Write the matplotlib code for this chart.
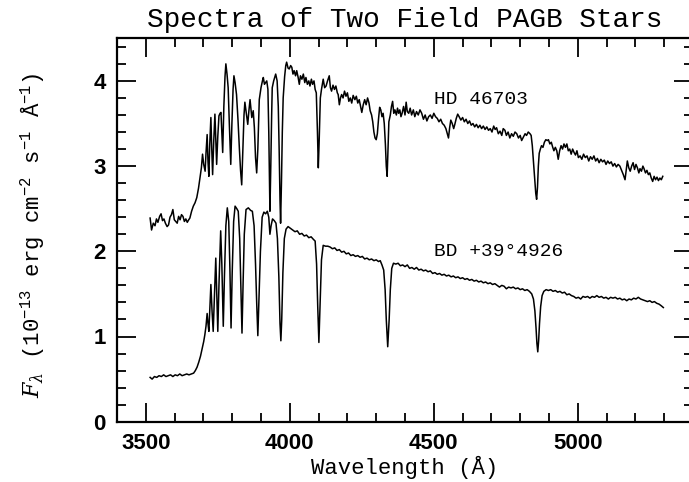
import matplotlib
matplotlib.use("Agg")
import matplotlib.pyplot as plt
from matplotlib.ticker import MultipleLocator

# ---------------- data ----------------
hd_wave = [3515, 3520, 3526, 3532, 3537, 3542, 3548, 3553, 3558, 3563, 3568, 3574, 3579, 3584, 3589,
           3594, 3599, 3604, 3609, 3614, 3619, 3624, 3629, 3634, 3639, 3644, 3649, 3653, 3659, 3665,
           3671, 3677, 3683, 3688, 3693, 3697, 3701, 3706, 3709, 3713, 3716, 3719, 3722, 3726, 3729,
           3732, 3736, 3740, 3743, 3746, 3750, 3754, 3758, 3761, 3764, 3767, 3771, 3775, 3778, 3782,
           3786, 3790, 3795, 3799, 3803, 3806, 3810, 3815, 3820, 3825, 3829, 3833, 3837, 3841, 3844,
           3849, 3854, 3858, 3862, 3868, 3873, 3877, 3881, 3885, 3889, 3894, 3900, 3905, 3908, 3912,
           3916, 3920, 3924, 3927, 3929, 3931, 3934, 3937, 3939, 3944, 3951, 3956, 3960, 3963, 3966,
           3968, 3971, 3974, 3977, 3982, 3986, 3989, 3994, 3998, 4003, 4007, 4011, 4015, 4020, 4024,
           4029, 4033, 4037, 4042, 4047, 4052, 4056, 4061, 4066, 4070, 4075, 4079, 4084, 4088, 4092,
           4096, 4099, 4102, 4106, 4110, 4116, 4121, 4126, 4131, 4137, 4141, 4145, 4150, 4155, 4160,
           4165, 4168, 4172, 4176, 4180, 4185, 4190, 4195, 4200, 4205, 4210, 4215, 4220, 4226, 4231,
           4236, 4241, 4246, 4250, 4255, 4260, 4265, 4270, 4275, 4279, 4284, 4288, 4292, 4296, 4300,
           4304, 4308, 4312, 4316, 4320, 4324, 4328, 4332, 4335, 4338, 4341, 4344, 4349, 4353, 4357,
           4361, 4365, 4370, 4374, 4378, 4382, 4386, 4390, 4395, 4400, 4404, 4408, 4413, 4418, 4423,
           4429, 4434, 4440, 4446, 4452, 4458, 4464, 4470, 4476, 4482, 4488, 4494, 4500, 4506, 4512,
           4518, 4524, 4530, 4536, 4542, 4547, 4551, 4555, 4559, 4564, 4569, 4573, 4578, 4583, 4588,
           4594, 4600, 4606, 4612, 4618, 4624, 4630, 4636, 4642, 4648, 4654, 4660, 4666, 4672, 4678,
           4684, 4690, 4696, 4702, 4708, 4713, 4718, 4724, 4730, 4736, 4741, 4747, 4752, 4758, 4764,
           4770, 4776, 4782, 4788, 4794, 4800, 4805, 4811, 4817, 4822, 4828, 4834, 4838, 4842, 4846,
           4850, 4854, 4857, 4860, 4863, 4866, 4870, 4874, 4879, 4884, 4889, 4894, 4898, 4903, 4908,
           4913, 4917, 4922, 4927, 4932, 4937, 4942, 4947, 4952, 4957, 4962, 4967, 4972, 4977, 4982,
           4987, 4992, 4997, 5002, 5008, 5014, 5020, 5026, 5032, 5038, 5044, 5050, 5056, 5062, 5068,
           5074, 5080, 5086, 5092, 5098, 5104, 5110, 5116, 5122, 5128, 5134, 5140, 5146, 5152, 5158,
           5164, 5168, 5172, 5177, 5182, 5187, 5192, 5197, 5202, 5207, 5212, 5216, 5221, 5226, 5230,
           5235, 5240, 5245, 5250, 5255, 5260, 5265, 5270, 5275, 5280, 5285, 5290, 5295]
hd_flux = [2.39, 2.25, 2.33, 2.30, 2.38, 2.34, 2.41, 2.44, 2.36, 2.38, 2.33, 2.29, 2.31, 2.40, 2.43,
           2.49, 2.37, 2.35, 2.33, 2.41, 2.37, 2.43, 2.41, 2.35, 2.38, 2.34, 2.37, 2.39, 2.47, 2.53,
           2.57, 2.63, 2.74, 2.86, 2.98, 3.14, 3.02, 2.94, 3.15, 3.37, 3.05, 2.88, 3.25, 3.57, 3.20,
           2.90, 3.30, 3.61, 3.30, 3.02, 3.35, 3.59, 3.62, 3.63, 3.40, 3.16, 3.70, 4.05, 4.20, 4.08,
           3.92, 3.50, 3.02, 3.50, 3.90, 4.06, 3.98, 3.84, 3.55, 3.20, 2.95, 2.78, 3.20, 3.60, 3.75,
           3.62, 3.49, 3.65, 3.78, 3.57, 3.65, 3.45, 3.10, 2.92, 3.20, 3.78, 3.92, 4.00, 4.04, 3.96,
           3.98, 4.00, 3.90, 3.40, 2.90, 2.47, 3.00, 3.60, 3.92, 4.00, 4.08, 4.00, 3.70, 3.20, 2.60,
           2.33, 2.80, 3.40, 3.80, 4.05, 4.18, 4.22, 4.15, 4.14, 4.18, 4.16, 4.08, 4.12, 4.06, 4.12,
           4.04, 3.96, 4.06, 4.02, 4.08, 3.98, 4.04, 3.96, 4.00, 3.94, 4.02, 3.96, 4.00, 3.90, 3.86,
           3.40, 2.98, 3.30, 3.80, 3.90, 4.02, 3.92, 3.94, 4.00, 4.06, 3.92, 3.88, 3.95, 3.90, 3.94,
           3.86, 3.84, 3.72, 3.80, 3.84, 3.80, 3.88, 3.82, 3.86, 3.76, 3.80, 3.74, 3.83, 3.78, 3.82,
           3.74, 3.78, 3.70, 3.63, 3.72, 3.78, 3.72, 3.80, 3.74, 3.65, 3.60, 3.52, 3.40, 3.33, 3.31,
           3.38, 3.55, 3.69, 3.66, 3.58, 3.62, 3.50, 3.25, 3.00, 2.88, 3.20, 3.52, 3.60, 3.70, 3.76,
           3.62, 3.66, 3.60, 3.68, 3.62, 3.66, 3.58, 3.62, 3.70, 3.60, 3.75, 3.64, 3.62, 3.68, 3.60,
           3.66, 3.58, 3.64, 3.60, 3.66, 3.62, 3.55, 3.60, 3.53, 3.58, 3.60, 3.56, 3.62, 3.58, 3.56,
           3.52, 3.55, 3.50, 3.48, 3.44, 3.38, 3.33, 3.45, 3.54, 3.50, 3.44, 3.49, 3.56, 3.61, 3.58,
           3.54, 3.57, 3.52, 3.55, 3.50, 3.53, 3.48, 3.50, 3.46, 3.49, 3.45, 3.48, 3.44, 3.47, 3.43,
           3.46, 3.42, 3.44, 3.40, 3.47, 3.43, 3.45, 3.38, 3.41, 3.36, 3.44, 3.42, 3.36, 3.40, 3.33,
           3.38, 3.35, 3.40, 3.38, 3.33, 3.36, 3.30, 3.34, 3.38, 3.36, 3.40, 3.38, 3.36, 3.24, 3.05,
           2.85, 2.68, 2.61, 2.75, 3.00, 3.15, 3.20, 3.24, 3.22, 3.28, 3.31, 3.30, 3.31, 3.26, 3.28,
           3.22, 3.18, 3.22, 3.18, 3.08, 3.18, 3.24, 3.20, 3.26, 3.22, 3.26, 3.18, 3.20, 3.14, 3.20,
           3.16, 3.13, 3.18, 3.10, 3.12, 3.08, 3.14, 3.10, 3.12, 3.06, 3.11, 3.08, 3.12, 3.06, 3.09,
           3.04, 3.08, 3.05, 3.07, 3.02, 3.06, 3.03, 3.05, 3.00, 3.03, 2.99, 3.02, 3.00, 2.95, 2.90,
           2.84, 2.95, 3.06, 2.98, 2.94, 3.00, 3.04, 2.96, 3.02, 2.98, 2.92, 2.97, 2.94, 3.00, 2.97,
           2.92, 2.95, 2.90, 2.92, 2.86, 2.82, 2.88, 2.84, 2.87, 2.83, 2.86, 2.84, 2.88]

bd_wave = [3515, 3522, 3530, 3538, 3546, 3554, 3562, 3570, 3578, 3586, 3594, 3602, 3610, 3618, 3626,
           3634, 3642, 3650, 3658, 3666, 3672, 3678, 3684, 3690, 3696, 3701, 3705, 3709, 3713, 3716,
           3719, 3722, 3726, 3730, 3734, 3738, 3743, 3746, 3750, 3754, 3760, 3764, 3769, 3773, 3778,
           3783, 3788, 3792, 3796, 3800, 3805, 3810, 3816, 3821, 3826, 3830, 3834, 3838, 3842, 3848,
           3856, 3864, 3870, 3876, 3881, 3885, 3889, 3893, 3898, 3904, 3910, 3916, 3922, 3927, 3931,
           3935, 3940, 3946, 3952, 3957, 3962, 3966, 3969, 3972, 3976, 3981, 3987, 3994, 4002, 4010,
           4018, 4026, 4034, 4042, 4050, 4058, 4066, 4074, 4082, 4088, 4093, 4097, 4101, 4105, 4110,
           4116, 4124, 4132, 4140, 4148, 4156, 4164, 4172, 4180, 4188, 4196, 4204, 4212, 4220, 4228,
           4236, 4244, 4252, 4260, 4268, 4276, 4284, 4292, 4300, 4308, 4314, 4320, 4326, 4331, 4335,
           4340, 4345, 4349, 4354, 4360, 4368, 4376, 4384, 4392, 4400, 4408, 4416, 4424, 4432, 4440,
           4448, 4456, 4464, 4472, 4480, 4488, 4496, 4504, 4512, 4520, 4528, 4536, 4544, 4552, 4560,
           4568, 4576, 4584, 4592, 4600, 4608, 4616, 4624, 4632, 4640, 4648, 4656, 4664, 4672, 4680,
           4688, 4696, 4704, 4712, 4720, 4728, 4736, 4744, 4752, 4760, 4768, 4776, 4784, 4792, 4800,
           4808, 4816, 4824, 4832, 4840, 4846, 4851, 4855, 4858, 4861, 4864, 4867, 4871, 4876, 4882,
           4890, 4898, 4906, 4914, 4922, 4930, 4938, 4946, 4954, 4962, 4970, 4978, 4986, 4994, 5002,
           5010, 5018, 5026, 5034, 5042, 5050, 5058, 5066, 5074, 5082, 5090, 5098, 5106, 5114, 5122,
           5130, 5138, 5146, 5154, 5162, 5170, 5178, 5186, 5194, 5202, 5210, 5218, 5226, 5234, 5242,
           5250, 5258, 5266, 5274, 5282, 5290, 5297]
bd_flux = [0.52, 0.50, 0.53, 0.52, 0.54, 0.53, 0.55, 0.53, 0.54, 0.55, 0.53, 0.55, 0.54, 0.56, 0.54,
           0.55, 0.56, 0.55, 0.56, 0.57, 0.60, 0.64, 0.70, 0.77, 0.86, 0.94, 1.02, 1.12, 1.27, 1.15,
           1.06, 1.30, 1.61, 1.30, 1.06, 1.45, 1.92, 1.55, 1.06, 1.60, 2.24, 1.85, 1.12, 1.70, 2.30,
           2.51, 2.35, 1.80, 1.10, 1.75, 2.35, 2.53, 2.50, 2.47, 2.15, 1.60, 1.04, 1.65, 2.20, 2.49,
           2.51, 2.48, 2.47, 2.30, 1.85, 1.40, 1.01, 1.45, 2.00, 2.40, 2.46, 2.44, 2.47, 2.40, 2.20,
           2.30, 2.38, 2.36, 2.33, 2.15, 1.70, 1.15, 0.95, 1.20, 1.75, 2.15, 2.26, 2.29, 2.27, 2.25,
           2.23, 2.24, 2.20, 2.21, 2.18, 2.19, 2.16, 2.17, 2.14, 2.12, 1.85, 1.35, 0.93, 1.35, 1.90,
           2.07, 2.06, 2.06, 2.05, 2.03, 2.04, 2.01, 2.02, 1.99, 2.00, 1.97, 1.98, 1.95, 1.96, 1.94,
           1.95, 1.93, 1.94, 1.91, 1.92, 1.90, 1.91, 1.89, 1.90, 1.88, 1.89, 1.84, 1.78, 1.55, 1.20,
           0.88, 1.20, 1.55, 1.80, 1.86, 1.85, 1.86, 1.83, 1.84, 1.82, 1.84, 1.80, 1.81, 1.79, 1.81,
           1.78, 1.79, 1.77, 1.78, 1.76, 1.77, 1.74, 1.75, 1.73, 1.74, 1.72, 1.73, 1.71, 1.72, 1.70,
           1.71, 1.69, 1.70, 1.68, 1.69, 1.67, 1.68, 1.66, 1.67, 1.65, 1.66, 1.64, 1.65, 1.63, 1.64,
           1.62, 1.63, 1.61, 1.62, 1.60, 1.58, 1.60, 1.59, 1.56, 1.58, 1.57, 1.58, 1.56, 1.57, 1.55,
           1.56, 1.54, 1.55, 1.53, 1.50, 1.44, 1.30, 1.10, 0.92, 0.82, 0.95, 1.15, 1.35, 1.48, 1.53,
           1.55, 1.54, 1.55, 1.53, 1.54, 1.52, 1.53, 1.51, 1.52, 1.49, 1.50, 1.48, 1.47, 1.45, 1.46,
           1.44, 1.47, 1.46, 1.47, 1.45, 1.47, 1.46, 1.48, 1.46, 1.47, 1.45, 1.46, 1.44, 1.46, 1.45,
           1.46, 1.44, 1.45, 1.43, 1.44, 1.42, 1.44, 1.43, 1.45, 1.44, 1.46, 1.44, 1.43, 1.42, 1.41,
           1.42, 1.40, 1.41, 1.39, 1.38, 1.36, 1.34]

x_ticks = [3500, 4000, 4500, 5000]
y_ticks = [0, 1, 2, 3, 4]
labels = ["HD 46703", "BD +39°4926"]
label_pos = [(4500, 3.78), (4500, 2.0)]
title = "Spectra of Two Field PAGB Stars"

# ---------------- figure ----------------
mono = "Liberation Mono"
plt.rcParams["mathtext.fontset"] = "custom"
plt.rcParams["mathtext.rm"] = mono
plt.rcParams["mathtext.it"] = "DejaVu Serif:italic"
plt.rcParams["mathtext.bf"] = mono + ":bold"

fig = plt.figure(figsize=(6.89, 4.82), dpi=100)
ax = fig.add_axes([117 / 689, 60.3 / 482, 576 / 689, 383.4 / 482])

ax.plot(hd_wave, hd_flux, color="black", lw=1.1)
ax.plot(bd_wave, bd_flux, color="black", lw=1.1)

ax.set_xlim(3400, 5400)
ax.set_ylim(0, 4.5)
ax.set_xticks(x_ticks)
ax.set_yticks(y_ticks)
ax.xaxis.set_minor_locator(MultipleLocator(100))
ax.yaxis.set_minor_locator(MultipleLocator(0.2))
ax.tick_params(which="both", direction="in", top=True, right=True, width=1.3)
ax.tick_params(which="major", length=14)
ax.tick_params(which="minor", length=6.5)
ax.tick_params(axis="x", which="major", pad=8)
ax.tick_params(axis="y", which="major", pad=8)
for lab in ax.get_xticklabels() + ax.get_yticklabels():
    lab.set_fontfamily("Liberation Sans")
    lab.set_fontweight("bold")
    lab.set_fontsize(16)
for sp in ax.spines.values():
    sp.set_linewidth(1.6)

for txt, (x, y) in zip(labels, label_pos):
    ax.text(x, y, txt, fontfamily=mono, fontsize=14, ha="left", va="center")

fig.text(405 / 689, 1 - 20 / 482, title, fontfamily=mono, fontsize=20,
         ha="center", va="center")
fig.text(405 / 689, 1 - 467 / 482, "Wavelength (Å)", fontfamily=mono, fontsize=16,
         ha="center", va="center")
fig.text(33 / 689, 1 - 235 / 482,
         r"$F_\lambda$ (10$^{-13}$ erg cm$^{-2}$ s$^{-1}$ Å$^{-1}$)",
         fontfamily=mono, fontsize=16, rotation=90, ha="center", va="center")

fig.savefig("out.png", dpi=100)
